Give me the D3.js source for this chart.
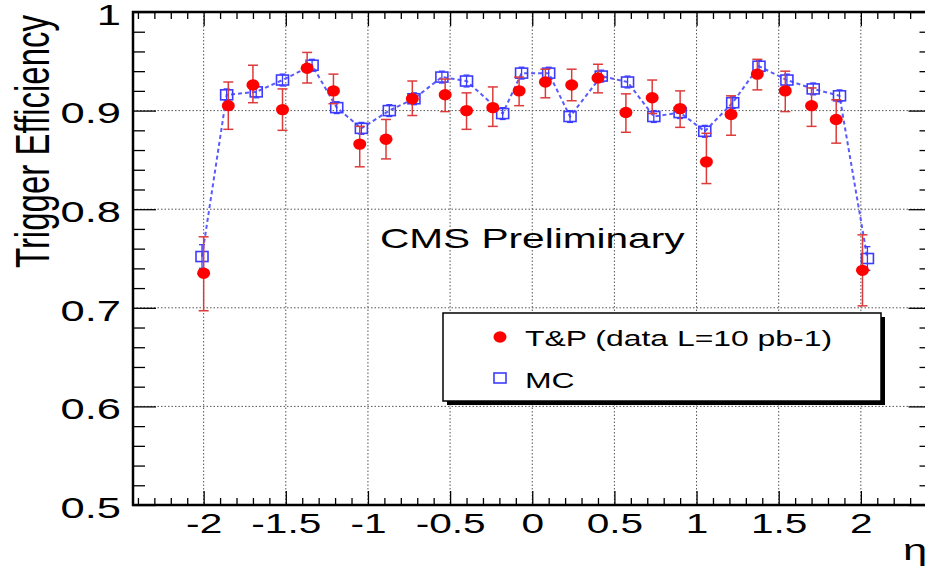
<!DOCTYPE html>
<html>
<head>
<meta charset="utf-8">
<script src="https://cdn.jsdelivr.net/npm/d3@7"></script>
<style>
  html, body { margin: 0; padding: 0; background: #fff; overflow: hidden; }
  svg { display: block; font-family: "Liberation Sans", Arial, "DejaVu Sans", sans-serif; }
</style>
</head>
<body>
<svg id="chart" width="925" height="573"></svg>
<script>
// ---- data ----
const tpEta   = [-2.00,-1.85,-1.70,-1.52,-1.37,-1.21,-1.05,-0.89,-0.73,-0.53,-0.40,-0.24,-0.08,0.08,0.24,0.40,0.57,0.73,0.90,1.06,1.21,1.37,1.54,1.70,1.85,2.01];
const tpEff   = [0.735,0.905,0.926,0.901,0.943,0.920,0.866,0.871,0.912,0.916,0.900,0.903,0.920,0.929,0.926,0.933,0.898,0.913,0.902,0.848,0.896,0.937,0.920,0.905,0.891,0.738];
const tpErrHi = [0.772,0.929,0.946,0.922,0.959,0.937,0.884,0.891,0.930,0.932,0.918,0.924,0.934,0.942,0.942,0.947,0.917,0.931,0.920,0.877,0.915,0.952,0.940,0.923,0.911,0.774];
const tpErrLo = [0.697,0.881,0.908,0.880,0.928,0.907,0.843,0.851,0.895,0.899,0.881,0.884,0.905,0.913,0.910,0.918,0.878,0.897,0.883,0.826,0.875,0.921,0.899,0.884,0.867,0.702];

const mcEta = [-2.01,-1.86,-1.68,-1.52,-1.34,-1.19,-1.04,-0.87,-0.72,-0.55,-0.40,-0.18,-0.065,0.10,0.23,0.42,0.58,0.74,0.90,1.05,1.22,1.38,1.55,1.71,1.87,2.04];
const mcEff = [0.752,0.916,0.919,0.931,0.946,0.903,0.882,0.900,0.912,0.934,0.930,0.897,0.938,0.938,0.894,0.935,0.929,0.894,0.898,0.879,0.908,0.945,0.931,0.922,0.915,0.750];
const mcErr = [0.012,0.006,0.006,0.006,0.006,0.006,0.006,0.006,0.006,0.006,0.006,0.006,0.006,0.006,0.006,0.006,0.006,0.006,0.006,0.006,0.006,0.006,0.006,0.006,0.006,0.012];

const xMajor = [-2,-1.5,-1,-0.5,0,0.5,1,1.5,2];
const xMajorLabels = ["-2","-1.5","-1","-0.5","0","0.5","1","1.5","2"];
const yMajor = [0.5,0.6,0.7,0.8,0.9,1.0];
const yMajorLabels = ["0.5","0.6","0.7","0.8","0.9","1"];
const legendLabels = ["T&P (data L=10 pb-1)", "MC"];

// ---- layout ----
const SX = 1.45; // horizontal stretch of the reference's glyphs
const svg = d3.select("#chart");
const x = d3.scaleLinear().domain([-2.43, 2.43]).range([133, 931.5]);
const y = d3.scaleLinear().domain([0.5, 1.0]).range([505, 12]);
const X0 = x.range()[0], X1 = x.range()[1], Y0 = y.range()[0], Y1 = y.range()[1];

const xMinor = d3.range(-24, 25).map(i => i / 10).filter(v => !xMajor.some(m => Math.abs(m - v) < 1e-9));
const yMinor = d3.range(25, 51).map(i => i / 50).filter(v => !yMajor.some(m => Math.abs(m - v) < 1e-9));

function stretch(sel) {
  sel.each(function () {
    const w = this.getComputedTextLength();
    d3.select(this).attr("textLength", w * SX).attr("lengthAdjust", "spacingAndGlyphs");
  });
}

// grid
const grid = svg.append("g").attr("stroke", "#555").attr("stroke-width", 1).attr("stroke-dasharray", "1.5,2");
grid.selectAll("line.gx").data(xMajor).join("line")
  .attr("x1", d => x(d)).attr("x2", d => x(d)).attr("y1", Y1).attr("y2", Y0);
grid.selectAll("line.gy").data(yMajor.filter(v => v > 0.5 && v < 1)).join("line")
  .attr("x1", X0).attr("x2", X1).attr("y1", d => y(d)).attr("y2", d => y(d));

// ticks (inward, on all four sides)
function tickAxis(axisFn, scale, vals, size, transform) {
  const g = svg.append("g").attr("transform", transform)
    .call(axisFn(scale).tickValues(vals).tickSize(size).tickSizeOuter(0).tickFormat(""));
  g.select(".domain").remove();
  g.selectAll(".tick line").attr("stroke", "#000").attr("stroke-width", 1.3);
}
tickAxis(d3.axisRight, y, yMajor, 23, `translate(${X0},0)`);
tickAxis(d3.axisRight, y, yMinor, 12, `translate(${X0},0)`);
tickAxis(d3.axisLeft, y, yMajor, 23, `translate(${X1},0)`);
tickAxis(d3.axisLeft, y, yMinor, 12, `translate(${X1},0)`);
tickAxis(d3.axisTop, x, xMajor, 14, `translate(0,${Y0})`);
tickAxis(d3.axisTop, x, xMinor, 7, `translate(0,${Y0})`);
tickAxis(d3.axisBottom, x, xMajor, 14, `translate(0,${Y1})`);
tickAxis(d3.axisBottom, x, xMinor, 7, `translate(0,${Y1})`);

// frame
svg.append("rect").attr("x", X0).attr("y", Y1).attr("width", X1 - X0).attr("height", Y0 - Y1)
  .attr("fill", "none").attr("stroke", "#000").attr("stroke-width", 2.5);

// tick labels
const yl = svg.append("g").attr("transform", `translate(${X0},0)`)
  .call(d3.axisLeft(y).tickValues(yMajor).tickSize(0).tickPadding(12).tickFormat((d, i) => yMajorLabels[i]));
yl.select(".domain").remove();
yl.selectAll("text").attr("font-size", 30).attr("fill", "#000").attr("dy", "0.41em")
  .attr("font-family", "Liberation Sans, Arial, sans-serif").call(stretch);

const xl = svg.append("g").attr("transform", `translate(0,${Y0})`)
  .call(d3.axisBottom(x).tickValues(xMajor).tickSize(0).tickPadding(8).tickFormat((d, i) => xMajorLabels[i]));
xl.select(".domain").remove();
xl.selectAll("text").attr("font-size", 28).attr("fill", "#000").attr("dy", "0.71em")
  .attr("font-family", "Liberation Sans, Arial, sans-serif").call(stretch);

// axis titles
svg.append("text").text("Trigger Efficiency")
  .attr("font-size", 33).attr("text-anchor", "end")
  .attr("transform", `translate(49,15) scale(${SX},1) rotate(-90)`);
svg.append("text").text("η")
  .attr("font-size", 30).attr("x", 903).attr("y", 560).call(stretch);

// CMS Preliminary
svg.append("text").text("CMS Preliminary")
  .attr("font-size", 28).attr("text-anchor", "middle")
  .attr("x", x(0)).attr("y", 248).call(stretch);

// ---- MC series ----
const mcData = mcEta.map((e, i) => ({ e, v: mcEff[i], err: mcErr[i] }));
const tpData = tpEta.map((e, i) => ({ e, v: tpEff[i], hi: tpErrHi[i], lo: tpErrLo[i] }));

svg.append("path").datum(mcData)
  .attr("d", d3.line().x(d => x(d.e)).y(d => y(d.v)))
  .attr("fill", "none").attr("stroke", "#5a5aff").attr("stroke-width", 2).attr("stroke-dasharray", "4,3");

const mcG = svg.append("g").attr("stroke", "#3c3cff").attr("stroke-width", 1.3);
mcG.selectAll("line.err").data(mcData).join("line")
  .attr("x1", d => x(d.e)).attr("x2", d => x(d.e))
  .attr("y1", d => y(d.v + d.err)).attr("y2", d => y(d.v - d.err));
mcG.selectAll("line.ct").data(mcData).join("line")
  .attr("x1", d => x(d.e) - 3).attr("x2", d => x(d.e) + 3)
  .attr("y1", d => y(d.v + d.err)).attr("y2", d => y(d.v + d.err));
mcG.selectAll("line.cb").data(mcData).join("line")
  .attr("x1", d => x(d.e) - 3).attr("x2", d => x(d.e) + 3)
  .attr("y1", d => y(d.v - d.err)).attr("y2", d => y(d.v - d.err));
mcG.selectAll("rect").data(mcData).join("rect")
  .attr("x", d => x(d.e) - 6).attr("y", d => y(d.v) - 5)
  .attr("width", 12).attr("height", 10).attr("fill", "none").attr("stroke-width", 1.6);

// ---- T&P series ----
const tpG = svg.append("g").attr("stroke", "#dd3b3b").attr("stroke-width", 1.5);
tpG.selectAll("line.err").data(tpData).join("line")
  .attr("x1", d => x(d.e)).attr("x2", d => x(d.e))
  .attr("y1", d => y(d.hi)).attr("y2", d => y(d.lo));
tpG.selectAll("line.ct").data(tpData).join("line")
  .attr("x1", d => x(d.e) - 5).attr("x2", d => x(d.e) + 5)
  .attr("y1", d => y(d.hi)).attr("y2", d => y(d.hi));
tpG.selectAll("line.cb").data(tpData).join("line")
  .attr("x1", d => x(d.e) - 5).attr("x2", d => x(d.e) + 5)
  .attr("y1", d => y(d.lo)).attr("y2", d => y(d.lo));
svg.append("g").selectAll("ellipse").data(tpData).join("ellipse")
  .attr("cx", d => x(d.e)).attr("cy", d => y(d.v)).attr("rx", 6.5).attr("ry", 5.7)
  .attr("fill", "#ff0000");

// ---- legend ----
const lg = svg.append("g");
lg.append("rect").attr("x", 447).attr("y", 317).attr("width", 438).attr("height", 88).attr("fill", "#000");
lg.append("rect").attr("x", 443).attr("y", 313).attr("width", 438).attr("height", 88)
  .attr("fill", "#fff").attr("stroke", "#000").attr("stroke-width", 1.5);
lg.append("ellipse").attr("cx", 500).attr("cy", 337).attr("rx", 6.5).attr("ry", 5.7).attr("fill", "#ff0000");
lg.append("rect").attr("x", 494).attr("y", 373).attr("width", 12).attr("height", 10)
  .attr("fill", "none").attr("stroke", "#3c3cff").attr("stroke-width", 1.6);
lg.append("text").text(legendLabels[0]).attr("x", 525).attr("y", 346).attr("font-size", 22).call(stretch);
lg.append("text").text(legendLabels[1]).attr("x", 525).attr("y", 388).attr("font-size", 22).call(stretch);
</script>
</body>
</html>
